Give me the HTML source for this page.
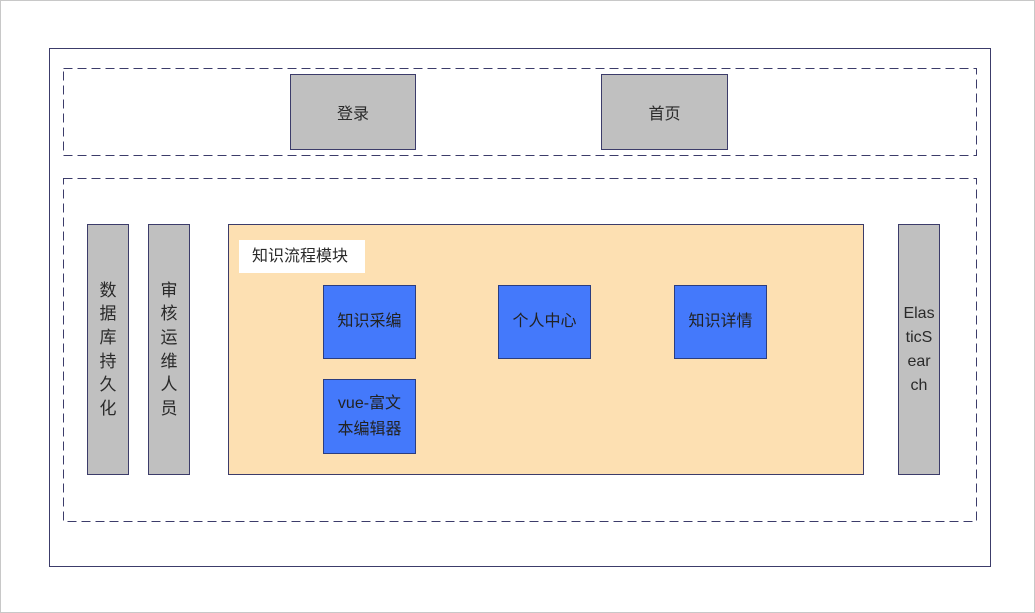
<!DOCTYPE html>
<html><head><meta charset="utf-8"><style>
body{margin:0;width:1035px;height:613px;background:#fff;position:relative;overflow:hidden;font-family:"Liberation Sans","Noto Sans CJK SC",sans-serif;color:#2a2a2a;}
.a{position:absolute;box-sizing:border-box;}
.g{background:#c0c0c0;border:1px solid #3c3c6a;display:flex;align-items:center;justify-content:center;font-size:16px;text-align:center;}
.b{background:#4479fb;border:1px solid #2a3d80;display:flex;align-items:center;justify-content:center;font-size:16px;text-align:center;line-height:26px;color:#222;}
.v{line-height:23.6px;font-size:17px;white-space:nowrap;}
</style></head><body>
<div class="a" style="left:0;top:0;width:1035px;height:613px;border:1px solid #c8c8c8"></div>
<div class="a" style="left:49px;top:48px;width:942px;height:519px;border:1px solid #3c3c6a"></div>
<svg class="a" style="left:0;top:0" width="1035" height="613">
<rect x="63.5" y="68.5" width="913" height="87" fill="none" stroke="#3c3c6a" stroke-width="1" stroke-dasharray="9,5"/>
<rect x="63.5" y="178.5" width="913" height="343" fill="none" stroke="#3c3c6a" stroke-width="1" stroke-dasharray="9,5"/>
</svg>
<div class="a g" style="left:290px;top:74px;width:126px;height:76px">登录</div>
<div class="a g" style="left:601px;top:74px;width:127px;height:76px">首页</div>
<div class="a g v" style="left:87px;top:224px;width:42px;height:251px">数<br>据<br>库<br>持<br>久<br>化</div>
<div class="a g v" style="left:148px;top:224px;width:42px;height:251px">审<br>核<br>运<br>维<br>人<br>员</div>
<div class="a g" style="left:898px;top:224px;width:42px;height:251px;line-height:24px;white-space:nowrap">Elas<br>ticS<br>ear<br>ch</div>
<div class="a" style="left:228px;top:224px;width:636px;height:251px;background:#fde0b2;border:1px solid #3c3c6a"></div>
<div class="a" style="left:239px;top:240px;width:126px;height:33px;background:#fff;font-size:16px;line-height:33px;padding-left:13px">知识流程模块</div>
<div class="a b" style="left:323px;top:285px;width:93px;height:74px">知识采编</div>
<div class="a b" style="left:498px;top:285px;width:93px;height:74px">个人中心</div>
<div class="a b" style="left:674px;top:285px;width:93px;height:74px">知识详情</div>
<div class="a b" style="left:323px;top:379px;width:93px;height:75px">vue-富文<br>本编辑器</div>
</body></html>
